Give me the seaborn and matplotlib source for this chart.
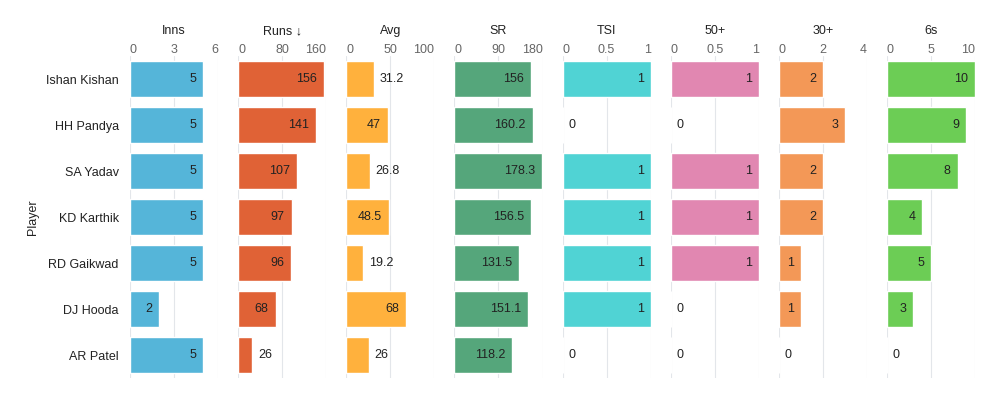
import pandas as pd
import matplotlib.pyplot as plt
import seaborn as sns

# Data
players = ["Ishan Kishan", "HH Pandya", "SA Yadav", "KD Karthik", "RD Gaikwad", "DJ Hooda", "AR Patel"]
inns = [5, 5, 5, 5, 5, 2, 5]
runs = [156, 141, 107, 97, 96, 68, 26]
avg = [31.2, 47, 26.8, 48.5, 19.2, 68, 26]
sr = [156, 160.2, 178.3, 156.5, 131.5, 151.1, 118.2]
tsi = [1, 0, 1, 1, 1, 1, 0]
fifties = [1, 0, 1, 1, 1, 0, 0]
thirties = [2, 3, 2, 2, 1, 1, 0]
sixes = [10, 9, 8, 4, 5, 3, 0]

columns = ["Inns", "Runs ↓", "Avg", "SR", "TSI", "50+", "30+", "6s"]
ticks = [[0, 3, 6], [0, 80, 160], [0, 50, 100], [0, 90, 180],
         [0, 0.5, 1], [0, 0.5, 1], [0, 2, 4], [0, 5, 10]]
tick_labels = [["0", "3", "6"], ["0", "80", "160"], ["0", "50", "100"], ["0", "90", "180"],
               ["0", "0.5", "1"], ["0", "0.5", "1"], ["0", "2", "4"], ["0", "5", "10"]]
colors = ["#55b5d9", "#e06236", "#ffb13d", "#55a67b", "#50d3d4", "#e187b1", "#f39857", "#6ccd55"]

df = pd.DataFrame({"Player": players, "Inns": inns, "Runs ↓": runs, "Avg": avg, "SR": sr,
                   "TSI": tsi, "50+": fifties, "30+": thirties, "6s": sixes})

sns.set_style("white")
plt.rcParams["font.family"] = ["Liberation Sans", "DejaVu Sans"]
plt.rcParams["font.size"] = 9

fig, axes = plt.subplots(1, 8, figsize=(9.92, 3.93), dpi=100, sharey=True)
fig.subplots_adjust(left=0.131, right=0.983, top=0.857, bottom=0.038, wspace=0.227)


def fmt(v):
    return f"{v:g}"


for i, (ax, col) in enumerate(zip(axes, columns)):
    sns.barplot(data=df, x=col, y="Player", orient="h", color=colors[i],
                saturation=1, width=0.78, ax=ax)
    for p in ax.patches:
        p.set_zorder(3)
    lo, hi = ticks[i][0], ticks[i][-1]
    ax.set_xlim(lo, hi)
    ax.set_xticks(ticks[i])
    ax.set_xticklabels(tick_labels[i])
    ax.xaxis.tick_top()
    ax.tick_params(axis="x", length=0, pad=0, colors="#666666", labelsize=9)
    labs = ax.get_xticklabels()
    labs[0].set_ha("left")
    labs[-1].set_ha("right")
    ax.grid(axis="x", color="#e3e6ea", linewidth=0.8)
    for gl in ax.get_xgridlines():
        gl.set_zorder(0)
    for s in ax.spines.values():
        s.set_visible(False)
    ax.set_xlabel("")
    ax.set_title(col, fontsize=9, color="#222222", pad=16)

    px_per_unit = 88 / (hi - lo)
    for j, v in enumerate(df[col]):
        txt = fmt(v)
        text_px = sum(3 if c == "." else 6 for c in txt)
        bar_px = v * px_per_unit
        if v > 0 and bar_px >= text_px + 12:
            ax.annotate(txt, (v, j), xytext=(-5, 0), textcoords="offset points",
                        ha="right", va="center", fontsize=9, color="#222222", zorder=4)
        else:
            ax.annotate(txt, (v, j), xytext=(4, 0), textcoords="offset points",
                        ha="left", va="center", fontsize=9, color="#222222", zorder=4)

    if i == 0:
        ax.set_ylabel("Player", fontsize=9, color="#222222", labelpad=5)
        ax.tick_params(axis="y", length=0, pad=8, labelsize=9, colors="#222222")
    else:
        ax.set_ylabel("")
        ax.tick_params(axis="y", length=0, left=False, labelleft=False)

plt.savefig("out.png", dpi=100)
